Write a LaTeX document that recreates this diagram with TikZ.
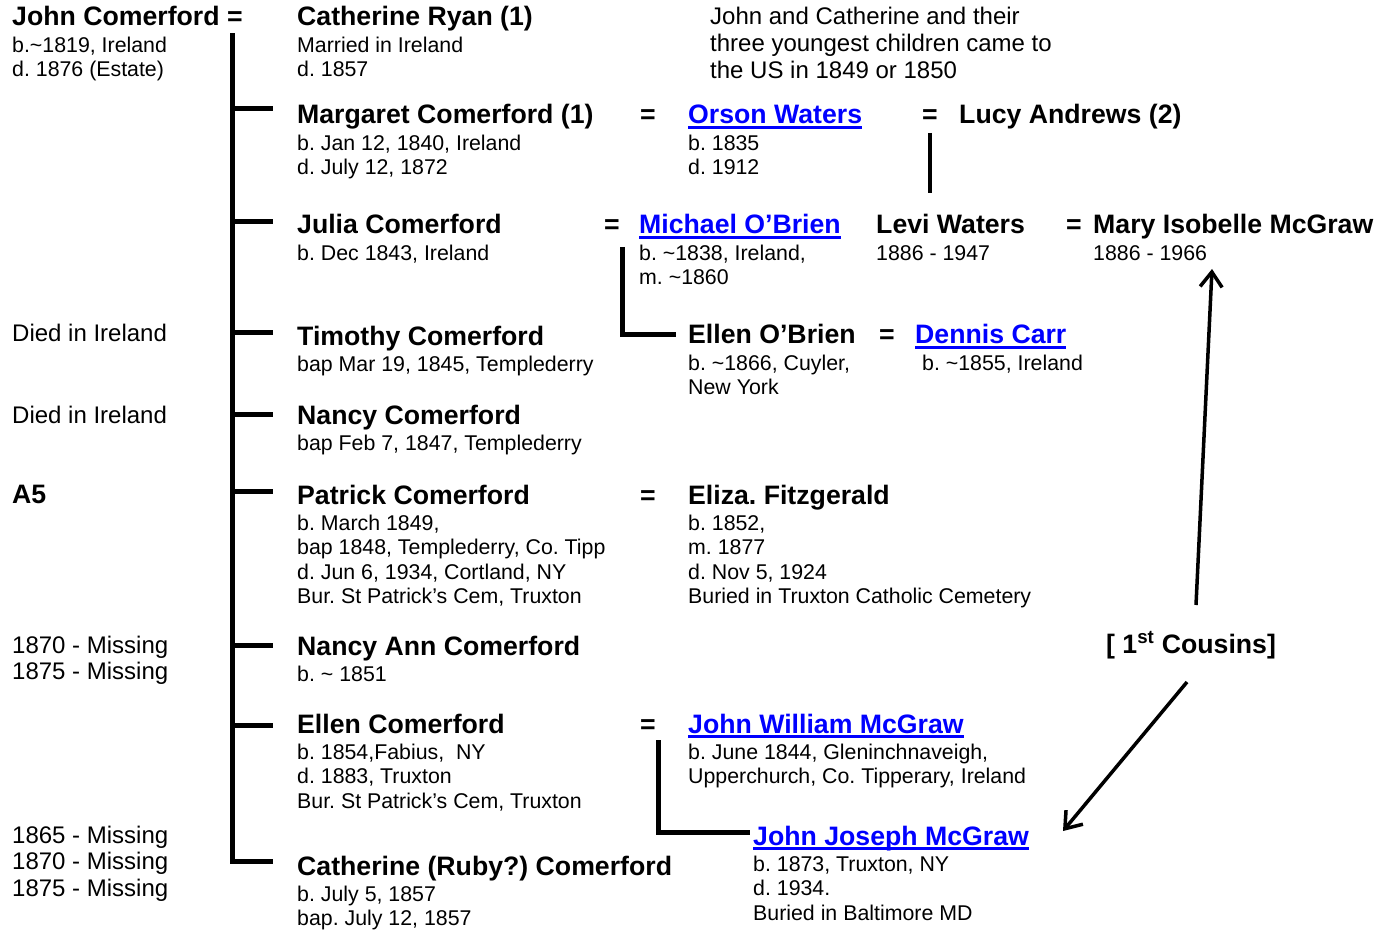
\documentclass[tikz,border=0pt]{standalone}
\usepackage{fontspec}
\setmainfont{Liberation Sans}
\usepackage{xcolor}
\usepackage{tikz}
\usetikzlibrary{arrows.meta,positioning,calc}

\definecolor{linkblue}{RGB}{0,0,255}
\newcommand\namefont{\fontsize{26.67}{30}\selectfont\bfseries}
\newcommand\detfont{\fontsize{21.33}{24.3}\selectfont}
\newcommand\notefont{\fontsize{24}{26.7}\selectfont}
\newcommand\card[1]{\begin{tabular}[t]{@{}l@{}}#1\end{tabular}}
\newcommand\weblink[1]{{\color{linkblue}\setbox0\hbox{#1}\rlap{\rule[-5pt]{\wd0}{2.6pt}}\box0}}
\frenchspacing

\begin{document}
\begin{tikzpicture}[x=1pt,y=-1pt,
    person/.style={anchor=base west,inner sep=0pt,font=\detfont},
    remark/.style={anchor=base west,inner sep=0pt,font=\notefont},
    marry/.style={anchor=base west,inner sep=0pt,font=\namefont},
    tree/.style={line width=5pt},
    cousin/.style={line width=3.5pt,-{Straight Barb[length=15pt,width=22pt]}}]
    \useasboundingbox (0,0) rectangle (1390,933);

    % Parents
    \node[person] (john) at (12,26) {\card{\namefont John Comerford =\\[2.2pt] b.\textasciitilde1819, Ireland\\ d. 1876 (Estate)}};
    \node[person] (catr) at (297,26) {\card{\namefont Catherine Ryan (1)\\[2.2pt] Married in Ireland\\ d. 1857}};
    \node[remark] (emig) at (710,25) {\card{John and Catherine and their\\ three youngest children came to\\ the US in 1849 or 1850}};

    % Margaret
    \node[person] (marg) at (297,124) {\card{\namefont Margaret Comerford (1)\\[2.2pt] b. Jan 12, 1840, Ireland\\ d. July 12, 1872}};
    \node[marry] (eq1) at (640,124) {=};
    \node[person] (orson) at (688,124) {\card{\namefont\weblink{Orson Waters}\\[2.2pt] b. 1835\\ d. 1912}};
    \node[marry] (eq2) at (922,124) {=};
    \node[marry] (lucy) at (959,124) {Lucy Andrews (2)};

    % Julia
    \node[person] (julia) at (297,234) {\card{\namefont Julia Comerford\\[2.2pt] b. Dec 1843, Ireland}};
    \node[marry] (eq3) at (604,234) {=};
    \node[person] (mob) at (639,234) {\card{\namefont\weblink{Michael O’Brien}\\[2.2pt] b. \textasciitilde1838, Ireland,\\ m. \textasciitilde1860}};
    \node[person] (levi) at (876,234) {\card{\namefont Levi Waters\\[2.2pt] 1886 - 1947}};
    \node[marry] (eq4) at (1066,234) {=};
    \node[person] (mary) at (1093,234) {\card{\namefont Mary Isobelle McGraw\\[2.2pt] 1886 - 1966}};

    % Timothy
    \node[remark] (died1) at (12,342) {Died in Ireland};
    \node[person] (tim) at (297,345) {\card{\namefont Timothy Comerford\\[2.2pt] bap Mar 19, 1845, Templederry}};
    \node[person] (eob) at (688,344) {\card{\namefont Ellen O’Brien\\[2.2pt] b. \textasciitilde1866, Cuyler,\\ New York}};
    \node[marry] (eq5) at (879,344) {=};
    \node[person] (carr) at (915,344) {\card{\namefont\weblink{Dennis Carr}\\[2.2pt] \hspace*{7pt}b. \textasciitilde1855, Ireland}};

    % Nancy
    \node[remark] (died2) at (12,423) {Died in Ireland};
    \node[person] (nancy) at (297,424) {\card{\namefont Nancy Comerford\\[2.2pt] bap Feb 7, 1847, Templederry}};

    % Patrick
    \node[marry] (a5) at (12,503) {A5};
    \node[person] (pat) at (297,504) {\card{\namefont Patrick Comerford\\[2.2pt] b. March 1849,\\ bap 1848, Templederry, Co. Tipp\\ d. Jun 6, 1934, Cortland, NY\\ Bur. St Patrick’s Cem, Truxton}};
    \node[marry] (eq6) at (640,504) {=};
    \node[person] (eliza) at (688,504) {\card{\namefont Eliza. Fitzgerald\\[2.2pt] b. 1852,\\ m. 1877\\ d. Nov 5, 1924\\ Buried in Truxton Catholic Cemetery}};

    % Nancy Ann
    \node[remark] (miss1) at (12,653) {\card{1870 - Missing\\ 1875 - Missing}};
    \node[person] (nann) at (297,655) {\card{\namefont Nancy Ann Comerford\\[2.2pt] b. \textasciitilde{} 1851}};
    \node[marry] (cous) at (1106,653) {[ 1\textsuperscript{st} Cousins]};

    % Ellen
    \node[person] (ellen) at (297,733) {\card{\namefont Ellen Comerford\\[2.2pt] b. 1854,Fabius,\ \ NY\\ d. 1883, Truxton\\ Bur. St Patrick’s Cem, Truxton}};
    \node[marry] (eq7) at (640,733) {=};
    \node[person] (jwm) at (688,733) {\card{\namefont\weblink{John William McGraw}\\[2.2pt] b. June 1844, Gleninchnaveigh,\\ Upperchurch, Co. Tipperary, Ireland}};

    % Catherine
    \node[remark] (miss2) at (12,843) {\card{1865 - Missing\\ 1870 - Missing\\ 1875 - Missing}};
    \node[person] (jjm) at (753,845) {\card{\namefont\weblink{John Joseph McGraw}\\[2.2pt] b. 1873, Truxton, NY\\ d. 1934.\\ Buried in Baltimore MD}};
    \node[person] (ruby) at (297,875) {\card{\namefont Catherine (Ruby?) Comerford\\[2.2pt] b. July 5, 1857\\ bap. July 12, 1857}};

    % Stamm und Zweige
    \coordinate (trunk) at (232,36);
    \coordinate (last) at ([shift={(-65pt,14pt)}]ruby.base west);
    \draw[tree,line cap=rect] (trunk) -- (trunk |- last);
    \foreach \kid/\dy in {marg/15,julia/12,tim/12,nancy/10,pat/13,nann/10,ellen/8,ruby/14}
        \draw[tree] ([shift={(-65pt,\dy pt)}]\kid.base west) -- ++(41pt,0pt);

    % Enkel
    \draw[tree] ([shift={(-17pt,-13pt)}]mob.base west) |- ([shift={(-12pt,9pt)}]eob.base west);
    \draw[tree] ([shift={(-30pt,-7pt)}]jwm.base west) |- ([shift={(-3pt,13pt)}]jjm.base west);
    \draw[line width=4pt] ([yshift=-9pt]eq2.base) -- ([yshift=-69pt]eq2.base);

    % Cousins
    \draw[cousin] ([shift={(90pt,48pt)}]cous.base west) -- ([shift={(119pt,-35pt)}]mary.base west);
    \draw[cousin] ([shift={(81pt,-29pt)}]cous.base west) -- ([shift={(310pt,14pt)}]jjm.base west);
\end{tikzpicture}
\end{document}
